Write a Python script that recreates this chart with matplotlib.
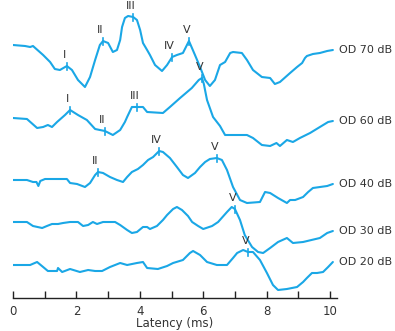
import numpy as np
import matplotlib
matplotlib.use("Agg")
import matplotlib.pyplot as plt

# latency (ms) and amplitude (arbitrary units) for each level
lat_70 = [0, 0.38, 0.54, 0.63, 0.95, 1.17, 1.32, 1.48, 1.70, 1.86, 2.05, 2.27, 2.43, 2.59, 2.74, 2.84,
          3.00, 3.15, 3.28, 3.38, 3.44, 3.53, 3.63, 3.79, 3.91, 4.01, 4.10, 4.23, 4.32, 4.48, 4.70,
          4.86, 5.02, 5.17, 5.36, 5.55, 5.74, 5.90, 6.06, 6.21, 6.37, 6.53, 6.69, 6.85, 6.94, 7.22,
          7.38, 7.57, 7.85, 8.11, 8.26, 8.42, 8.74, 8.96, 9.12, 9.21, 9.27, 9.46, 9.68, 9.91, 10.09]
amp_70 = [0, -1, -2, -1, -10, -17, -24, -25, -21, -25, -35, -42, -32, -15, 0, 4,
          2, -7, -5, 5, 18, 27, 29, 28, 25, 15, 2, -5, -10, -20, -26,
          -20, -12, -10, -8, 4, -10, -22, -35, -41, -35, -20, -17, -8, -7, -8,
          -15, -25, -32, -33, -39, -37, -28, -22, -18, -13, -11, -9, -8, -6, -5]

lat_60 = [0, 0.44, 0.76, 0.95, 1.10, 1.23, 1.39, 1.64, 1.80, 2.05, 2.33, 2.59, 2.74, 2.90, 3.15,
          3.38, 3.53, 3.60, 3.75, 3.91, 4.10, 4.23, 4.73, 4.95, 5.27, 5.64, 5.86, 5.96, 6.02, 6.12,
          6.31, 6.53, 6.60, 6.69, 6.85, 7.38, 7.57, 7.85, 8.11, 8.31, 8.42, 8.64, 8.83, 9.05, 9.37,
          9.68, 9.94, 10.09]
amp_60 = [0, -1, -10, -9, -7, -9, -4, 3, 8, 3, -2, -11, -12, -13, -17,
          -12, -4, 1, 11, 11, 11, 6, 5, 11, 20, 30, 38, 40, 34, 18,
          1, -8, -12, -17, -17, -17, -20, -27, -28, -25, -28, -22, -24, -20, -15,
          -9, -4, -3]

lat_40 = [0, 0.44, 0.63, 0.74, 0.80, 0.86, 1.01, 1.70, 1.80, 2.02, 2.27, 2.43, 2.59, 2.68, 2.84,
          3.06, 3.28, 3.47, 3.60, 3.75, 3.94, 4.10, 4.26, 4.42, 4.61, 4.73, 4.95, 5.17, 5.36, 5.52,
          5.74, 5.90, 6.06, 6.21, 6.43, 6.59, 6.75, 6.94, 7.16, 7.38, 7.79, 7.95, 8.11, 8.36, 8.64,
          8.74, 8.90, 9.15, 9.31, 9.46, 9.91, 10.09]
amp_40 = [0, 0, -2, -2, -6, -1, 1, 1, -3, -4, -7, -3, 5, 8, 7,
          3, 0, -2, 3, 8, 11, 15, 20, 23, 29, 28, 22, 13, 5, 2,
          7, 13, 18, 21, 22, 20, 10, -7, -20, -23, -22, -12, -13, -18, -23,
          -20, -20, -17, -12, -8, -6, -4]

lat_30 = [0, 0.44, 0.63, 0.92, 1.07, 1.23, 1.42, 1.58, 1.80, 2.05, 2.21, 2.37, 2.52, 2.65, 2.84,
          3.22, 3.38, 3.60, 3.75, 3.91, 4.10, 4.23, 4.32, 4.54, 4.73, 4.86, 5.05, 5.17, 5.33, 5.52,
          5.65, 5.84, 6.00, 6.28, 6.47, 6.75, 6.90, 7.00, 7.16, 7.31, 7.54, 7.73, 7.89, 8.11, 8.36,
          8.64, 8.83, 9.15, 9.68, 9.91, 10.09]
amp_30 = [0, 0, -4, -6, -4, -2, -2, -1, 0, 0, -4, -3, 0, -2, 0,
          0, -3, -8, -11, -10, -5, -5, -7, -4, 2, 7, 13, 15, 12, 6,
          0, -4, -7, -4, 0, 10, 15, 13, 2, -13, -25, -30, -31, -26, -20,
          -16, -21, -20, -16, -11, -9]

lat_20 = [0, 0.54, 0.76, 0.95, 1.10, 1.39, 1.42, 1.55, 1.80, 2.11, 2.37, 2.59, 2.81, 3.06, 3.38,
          3.60, 3.91, 4.10, 4.23, 4.57, 4.86, 5.05, 5.36, 5.58, 5.68, 5.90, 6.12, 6.43, 6.75, 6.94,
          7.07, 7.26, 7.41, 7.57, 7.79, 8.01, 8.20, 8.36, 8.64, 8.96, 9.15, 9.27, 9.43, 9.59, 9.78,
          9.94, 10.09]
amp_20 = [0, 0, 3, -2, -6, -6, -3, -7, -4, -7, -5, -6, -6, -2, 2,
          0, 2, 3, -3, -4, -1, 2, 5, 12, 14, 10, 3, 0, 0, 7,
          12, 15, 13, 13, 5, -8, -20, -25, -24, -22, -17, -13, -8, -8, -7,
          -2, 3]

levels = ["OD 70 dB", "OD 60 dB", "OD 40 dB", "OD 30 dB", "OD 20 dB"]
lats = [lat_70, lat_60, lat_40, lat_30, lat_20]
amps = [amp_70, amp_60, amp_40, amp_30, amp_20]

# wave peaks: (roman numeral, latency ms) per level
peaks = [
    [("I", 1.70), ("II", 2.84), ("III", 3.79), ("IV", 5.02), ("V", 5.55)],
    [("I", 1.80), ("II", 2.90), ("III", 3.91), ("V", 5.96)],
    [("II", 2.68), ("IV", 4.61), ("V", 6.43)],
    [("V", 7.00)],
    [("V", 7.41)],
]

# vertical stacking of the traces
offsets = [-45, -118, -180, -222, -265]

blue = "#1aa7e6"
grey = "#333333"

fig = plt.figure(figsize=(3.95, 3.31), dpi=100)
ax = fig.add_axes([13 / 395, 33 / 331, 324 / 395, 298 / 331])

for lat, amp, off, name, pk in zip(lats, amps, offsets, levels, peaks):
    x = np.array(lat)
    y = np.array(amp) + off
    ax.plot(x, y, color=blue, lw=1.5, solid_capstyle="round", solid_joinstyle="round")
    ax.text(x[-1] + 0.2, y[-1], name, fontsize=8, color=grey, va="center", ha="left")
    for label, t in pk:
        yy = np.interp(t, x, y)
        ax.plot([t, t], [yy - 3.5, yy + 3.5], color=blue, lw=1.2)
        ax.text(t - 0.08, yy + 6, label, fontsize=8, color=grey, ha="center", va="bottom")

ax.set_xlim(0, 10.22)
ax.set_ylim(-298, 0)
for s in ["top", "right", "left"]:
    ax.spines[s].set_visible(False)
ax.spines["bottom"].set_color("#222222")
ax.spines["bottom"].set_linewidth(1.0)
ax.set_yticks([])
ax.set_xticks([0, 2, 4, 6, 8, 10])
ax.set_xticks([1, 3, 5, 7, 9], minor=True)
ax.tick_params(axis="x", which="both", direction="in", length=5, width=1, color="#222222",
               labelsize=8.5, labelcolor=grey, pad=5)
ax.set_xlabel("Latency (ms)", fontsize=8.5, color=grey, labelpad=-1)
ax.patch.set_alpha(0)

fig.savefig("out.png", dpi=100)
